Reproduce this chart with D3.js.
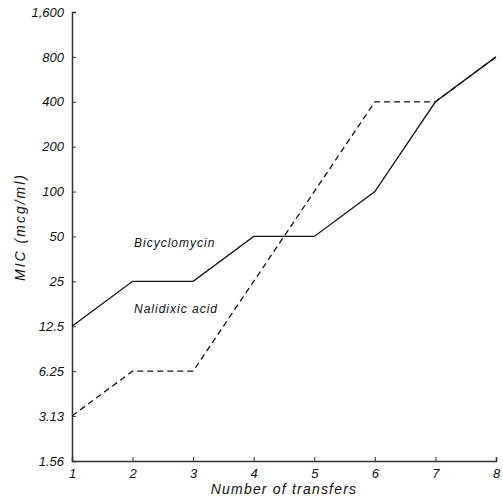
<!DOCTYPE html>
<html>
<head>
<meta charset="utf-8">
<script src="https://cdn.jsdelivr.net/npm/d3@7"></script>
<style>
  body { margin: 0; background: #fff; }
  text { font-family: 'Liberation Sans', Arial, sans-serif; font-style: italic; fill: #111; }
</style>
</head>
<body>
<div id="chart"></div>
<script>
const transfers = [1, 2, 3, 4, 5, 6, 7, 8]
const bicyclomycin = [12.5, 25, 25, 50, 50, 100, 400, 800]
const nalidixic = [3.13, 6.25, 6.25, 25, 100, 400, 400, 800]
const yTicks = [1.56, 3.13, 6.25, 12.5, 25, 50, 100, 200, 400, 800, 1600]
const yTickLabels = ['1.56', '3.13', '6.25', '12.5', '25', '50', '100', '200', '400', '800', '1,600']

const width = 503
const height = 499
const margin = { top: 12, right: 7, bottom: 38, left: 72 }

const svg = d3.select('#chart').append('svg').attr('width', width).attr('height', height)

const x = d3.scaleLinear().domain([1, 8]).range([margin.left, width - margin.right])
const y = d3.scaleLog().base(2).domain([1.56, 1600]).range([height - margin.bottom, margin.top])

// axes
const yAxis = d3.axisLeft(y).tickValues(yTicks).tickSize(-4).tickPadding(8)
  .tickFormat((d, i) => yTickLabels[i])
const gy = svg.append('g').attr('transform', `translate(${margin.left},0)`).call(yAxis)
gy.select('.domain').attr('stroke', '#333').attr('stroke-width', 1.5)
gy.selectAll('.tick line').attr('stroke', '#333')
gy.selectAll('.tick text').style('font-size', '13px')

const xAxis = d3.axisBottom(x).tickValues(transfers).tickSize(-4).tickPadding(8)
  .tickFormat(d3.format('d'))
const gx = svg.append('g').attr('transform', `translate(0,${height - margin.bottom})`).call(xAxis)
gx.select('.domain').attr('stroke', '#333').attr('stroke-width', 1.5)
gx.selectAll('.tick line').attr('stroke', '#333')
gx.selectAll('.tick text').style('font-size', '13px')

// lines
const line = d3.line().x((d, i) => x(transfers[i])).y((d) => y(d))
svg.append('path').datum(bicyclomycin).attr('d', line)
  .attr('fill', 'none').attr('stroke', '#111').attr('stroke-width', 1.3)
svg.append('path').datum(nalidixic).attr('d', line)
  .attr('fill', 'none').attr('stroke', '#111').attr('stroke-width', 1.3)
  .attr('stroke-dasharray', '6,4')

// series labels
svg.append('text').attr('x', 134).attr('y', 247).style('font-size', '12px')
  .style('letter-spacing', '1px').text('Bicyclomycin')
svg.append('text').attr('x', 134).attr('y', 313).style('font-size', '12px')
  .style('letter-spacing', '1px').text('Nalidixic acid')

// axis titles
svg.append('text').attr('x', (margin.left + width - margin.right) / 2).attr('y', 494)
  .attr('text-anchor', 'middle').style('font-size', '14px').style('letter-spacing', '1.2px')
  .text('Number of transfers')
svg.append('text').attr('transform', 'translate(25,227) rotate(-90)')
  .attr('text-anchor', 'middle').style('font-size', '14px').style('letter-spacing', '2px')
  .text('MIC  (mcg/ml)')
</script>
</body>
</html>
